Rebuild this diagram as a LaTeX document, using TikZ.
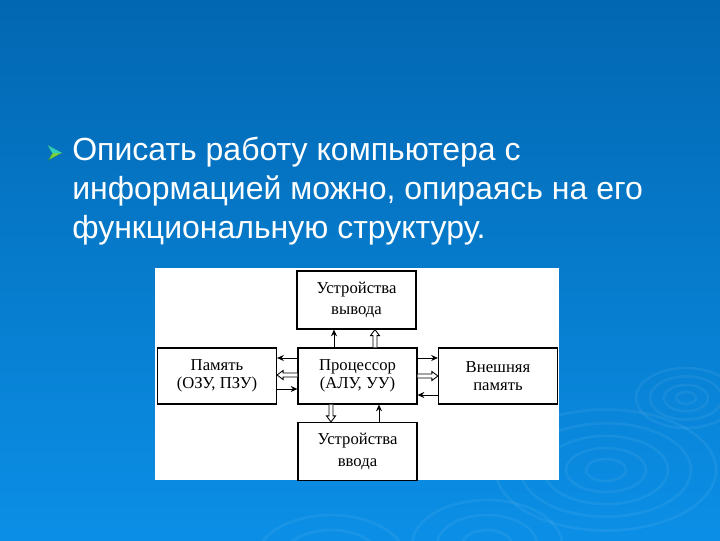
\documentclass[tikz,border=0pt]{standalone}
\usepackage{fontspec}
\setmainfont{Liberation Serif}
\newfontfamily\titlefont{Liberation Sans}
\usetikzlibrary{arrows.meta,calc}
\definecolor{bgtop}{HTML}{0267B2}
\definecolor{bgmid}{HTML}{036EBC}
\definecolor{bgbot}{HTML}{0B8FE6}
\definecolor{bullA}{HTML}{2FD0C0}
\definecolor{bullB}{HTML}{7FD23A}
\tikzset{
  box/.style={draw=black, line width=0.9pt, fill=white, inner sep=0pt,
    minimum width=89.25pt, align=center, font=\fontsize{12.5}{16}\selectfont},
  midbox/.style={box, minimum height=42pt, font=\fontsize{12.5}{13.5}\selectfont},
  sidebox/.style={box, minimum height=43.5pt},
  solidarr/.style={line width=0.75pt, -{Stealth[length=5pt,width=4.5pt]}},
  hollowarr/.style={fill=white, draw=black, line width=0.65pt},
  ripple/.style={white, opacity=0.06, line width=2pt}
}
\newcommand\harr[2]{%
  \coordinate (hs) at #1;
  \coordinate (he) at #2;
  \coordinate (hb) at ($(he)!4.5pt!(hs)$);
  \filldraw[hollowarr] ($(hs)!1.5pt!90:(hb)$) -- ($(hb)!1.5pt!-90:(hs)$)
    -- ($(hb)!3.4pt!-90:(hs)$) -- (he) -- ($(hb)!3.4pt!90:(hs)$)
    -- ($(hb)!1.5pt!90:(hs)$) -- ($(hs)!1.5pt!-90:(hb)$);
}
\begin{document}
\begin{tikzpicture}[x=0.75pt,y=-0.75pt]
\useasboundingbox (0,0) rectangle (720,540);
\shade[top color=bgtop, middle color=bgmid, bottom color=bgbot] (0,0) rectangle (720,540);
% ripples
\foreach \r in {20,40,62,85,110}{
  \draw[ripple] (606,470) ellipse ({\r} and {\r*0.55});
}
\foreach \r in {10,22,36,50}{
  \draw[ripple] (686,398) ellipse ({\r} and {\r*0.6});
}
\foreach \r in {25,50,75}{
  \draw[ripple] (487,545) ellipse ({\r} and {\r*0.6});
  \draw[ripple] (331,560) ellipse ({\r} and {\r*0.6});
}
% bullet
\filldraw[draw=bullA!60!black, line width=0.4pt, fill=bullB] (48,145.5) -- (62,153) -- (48,160.5) -- (52.5,153) -- cycle;
\fill[bullA] (48,145.5) -- (62,153) -- (52.5,153) -- cycle;
% title
\node[anchor=north west, inner sep=0pt, text=white, align=left,
  font=\titlefont\fontsize{24}{29}\selectfont] (title) at (72,137)
  {Описать работу компьютера с\\информацией можно, опираясь на его\\функциональную структуру.};
% panel
\fill[white] (155,268) rectangle (559,480);
% boxes
\node[sidebox] (out) at (356.5,300) {Устройства\\вывода};
\node[midbox] (cpu) at (357.5,376) {Процессор\\(АЛУ, УУ)};
\node[midbox] (mem) at (217,376) {Память\\(ОЗУ, ПЗУ)};
\node[midbox] (ext) at (498,376) {Внешняя\\память};
\node[sidebox] (in) at (357.5,451.5) {Устройства\\ввода};
% top
\draw[solidarr] (334,0 |- cpu.north) -- (334,0 |- out.south);
\harr{(375,0 |- cpu.north)}{(375,0 |- out.south)}
% left
\draw[solidarr] (cpu.west |- 0,358) -- (mem.east |- 0,358);
\harr{(cpu.west |- 0,375)}{(mem.east |- 0,375)}
\draw[solidarr] (mem.east |- 0,389) -- (cpu.west |- 0,389);
% right
\draw[solidarr] (cpu.east |- 0,358) -- (ext.west |- 0,358);
\harr{(cpu.east |- 0,376)}{(ext.west |- 0,376)}
\draw[solidarr] (ext.west |- 0,395) -- (cpu.east |- 0,395);
% bottom
\harr{(331,0 |- cpu.south)}{(331,0 |- in.north)}
\draw[solidarr] (379,0 |- in.north) -- (379,0 |- cpu.south);
\end{tikzpicture}
\end{document}
